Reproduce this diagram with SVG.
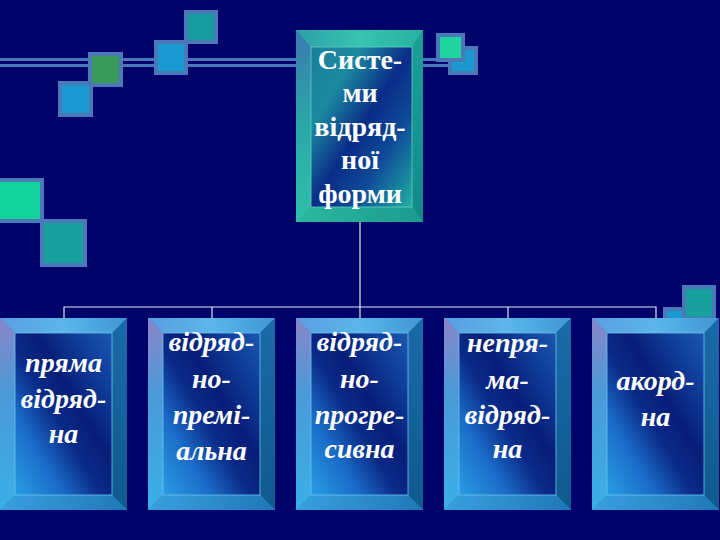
<svg xmlns="http://www.w3.org/2000/svg" width="720" height="540" viewBox="0 0 720 540">
<defs>
<style>
.deco{stroke:#4a78b8;stroke-width:4}
.conn{stroke:#e6e6f2;stroke-width:1.2;fill:none}
.t1{font-family:"Liberation Serif","Times New Roman",serif;font-weight:bold;font-size:28px;fill:#ffffff;text-anchor:middle}
.t2{font-family:"Liberation Serif","Times New Roman",serif;font-weight:bold;font-style:italic;font-size:28px;fill:#ffffff;text-anchor:middle}
</style>
<linearGradient id="bTop" x1="0" y1="0" x2="1" y2="0"><stop offset="0" stop-color="#5a9ee0"/><stop offset="0.5" stop-color="#5cb6ea"/><stop offset="1" stop-color="#3f96d4"/></linearGradient>
<linearGradient id="bLeft" x1="0" y1="0" x2="0" y2="1"><stop offset="0" stop-color="#8a86c8"/><stop offset="0.4" stop-color="#4a9ad8"/><stop offset="1" stop-color="#3ab0e8"/></linearGradient>
<linearGradient id="bRight" x1="0" y1="0" x2="0" y2="1"><stop offset="0" stop-color="#1a6aa8"/><stop offset="1" stop-color="#0f5a8e"/></linearGradient>
<linearGradient id="bBot" x1="0" y1="0" x2="1" y2="0"><stop offset="0" stop-color="#3aa0e0"/><stop offset="1" stop-color="#1f78b8"/></linearGradient>
<linearGradient id="bFace" x1="0" y1="1" x2="1" y2="0"><stop offset="0" stop-color="#2a9ee4"/><stop offset="0.25" stop-color="#1a6cc8"/><stop offset="0.45" stop-color="#0a2a88"/><stop offset="0.6" stop-color="#081e78"/><stop offset="0.8" stop-color="#0e3c98"/><stop offset="1" stop-color="#1a58b0"/></linearGradient>
<linearGradient id="gTop" x1="0" y1="0" x2="1" y2="0"><stop offset="0" stop-color="#2aa0a8"/><stop offset="0.5" stop-color="#38c4b0"/><stop offset="1" stop-color="#28b0a0"/></linearGradient>
<linearGradient id="gLeft" x1="0" y1="0" x2="0" y2="1"><stop offset="0" stop-color="#3a7ab0"/><stop offset="0.5" stop-color="#2aa8a8"/><stop offset="1" stop-color="#30c0a8"/></linearGradient>
<linearGradient id="gRight" x1="0" y1="0" x2="0" y2="1"><stop offset="0" stop-color="#1aa098"/><stop offset="1" stop-color="#128a88"/></linearGradient>
<linearGradient id="gBot" x1="0" y1="0" x2="1" y2="0"><stop offset="0" stop-color="#2ab8a0"/><stop offset="1" stop-color="#1c9a90"/></linearGradient>
<linearGradient id="gFace" x1="0" y1="0" x2="1" y2="1"><stop offset="0" stop-color="#1a7e98"/><stop offset="0.25" stop-color="#1b8aa0"/><stop offset="0.5" stop-color="#0a2c88"/><stop offset="0.7" stop-color="#0e4a98"/><stop offset="1" stop-color="#20b0a2"/></linearGradient>
<symbol id="blueBox" overflow="visible">
<rect x="0" y="0" width="127" height="192" fill="#2f86c8"/>
<polygon points="0,0 127,0 112,15 15,15" fill="url(#bTop)"/>
<polygon points="0,0 15,15 15,177 0,192" fill="url(#bLeft)"/>
<polygon points="127,0 127,192 112,177 112,15" fill="url(#bRight)"/>
<polygon points="0,192 15,177 112,177 127,192" fill="url(#bBot)"/>
<rect x="15" y="15" width="97" height="162" fill="url(#bFace)" stroke="#6cc0ee" stroke-width="0.8"/>
</symbol>
</defs>
<rect width="720" height="540" fill="#02026b"/>
<g id="decor">
<g stroke="#4a78b8" stroke-width="3">
<line x1="0" y1="59.5" x2="296" y2="59.5"/>
<line x1="0" y1="65.5" x2="296" y2="65.5"/>
<line x1="423" y1="59.5" x2="450" y2="59.5"/>
<line x1="423" y1="65.5" x2="450" y2="65.5"/>
</g>
<rect class="deco" x="186" y="12" width="30" height="30" fill="#169c9c"/>
<rect class="deco" x="156" y="42" width="30" height="31" fill="#1a9ad0"/>
<rect class="deco" x="60" y="83" width="31" height="32" fill="#1a9ad0"/>
<rect class="deco" x="90" y="54" width="31" height="31" fill="#3a9a5c"/>
<rect class="deco" x="42" y="221" width="43" height="44" fill="#18a09c"/>
<rect class="deco" x="-4" y="180" width="46" height="41" fill="#12d29c"/>
<rect class="deco" x="450" y="48" width="26" height="25" fill="#1a9ad0"/>
<rect class="deco" x="438" y="35" width="25" height="25" fill="#20d4a0"/>
<rect class="deco" x="665" y="309" width="30" height="30" fill="#1a9ad0"/>
<rect class="deco" x="684" y="287" width="30" height="32" fill="#17a09c"/>
</g>
<g id="connectors">
<polyline class="conn" points="360,222 360,307"/>
<polyline class="conn" points="64,318 64,307 656,307 656,318"/>
<line class="conn" x1="212" y1="307" x2="212" y2="318"/>
<line class="conn" x1="360" y1="307" x2="360" y2="318"/>
<line class="conn" x1="508" y1="307" x2="508" y2="318"/>
</g>
<g id="root">
<rect x="296" y="30" width="127" height="192" fill="#22a89c"/>
<polygon points="296,30 423,30 412,47 311,47" fill="url(#gTop)"/>
<polygon points="296,30 311,47 311,207 296,222" fill="url(#gLeft)"/>
<polygon points="423,30 423,222 412,207 412,47" fill="url(#gRight)"/>
<polygon points="296,222 311,207 412,207 423,222" fill="url(#gBot)"/>
<rect x="311" y="47" width="101" height="160" fill="url(#gFace)" stroke="#60d0c0" stroke-width="0.8"/>
<text class="t1" x="360" y="69">Систе-</text>
<text class="t1" x="360" y="102">ми</text>
<text class="t1" x="360" y="136">відряд-</text>
<text class="t1" x="360" y="169">ної</text>
<text class="t1" x="360" y="203">форми</text>
</g>
<g id="n1">
<use href="#blueBox" x="0" y="318"/>
<text class="t2" x="63.5" y="372">пряма</text>
<text class="t2" x="63.5" y="408">відряд-</text>
<text class="t2" x="63.5" y="443">на</text>
</g>
<g id="n2">
<use href="#blueBox" x="148" y="318"/>
<text class="t2" x="211.5" y="351">відряд-</text>
<text class="t2" x="211.5" y="388">но-</text>
<text class="t2" x="211.5" y="424">премі-</text>
<text class="t2" x="211.5" y="460">альна</text>
</g>
<g id="n3">
<use href="#blueBox" x="296" y="318"/>
<text class="t2" x="359.5" y="351">відряд-</text>
<text class="t2" x="359.5" y="388">но-</text>
<text class="t2" x="359.5" y="424">прогре-</text>
<text class="t2" x="359.5" y="458">сивна</text>
</g>
<g id="n4">
<use href="#blueBox" x="444" y="318"/>
<text class="t2" x="507.5" y="352">непря-</text>
<text class="t2" x="507.5" y="389">ма-</text>
<text class="t2" x="507.5" y="424">відряд-</text>
<text class="t2" x="507.5" y="458">на</text>
</g>
<g id="n5">
<use href="#blueBox" x="592" y="318"/>
<text class="t2" x="655.5" y="390">акорд-</text>
<text class="t2" x="655.5" y="426">на</text>
</g>
</svg>
